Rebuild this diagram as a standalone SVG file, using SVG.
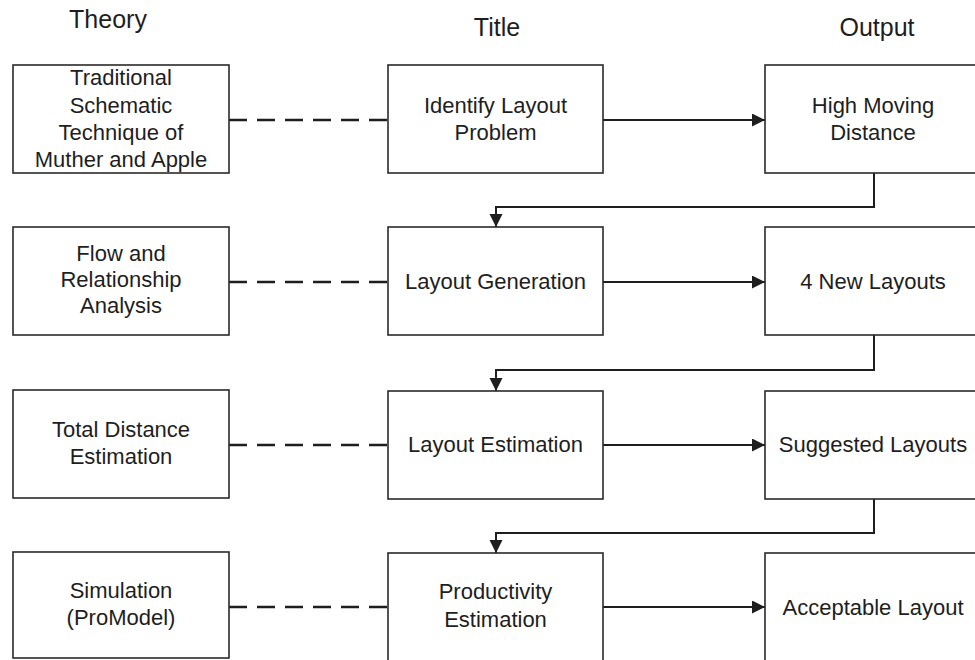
<svg xmlns="http://www.w3.org/2000/svg" width="975" height="660" viewBox="0 0 975 660">
<defs>
<marker id="ah" markerUnits="userSpaceOnUse" markerWidth="14" markerHeight="14" refX="13" refY="6.5" orient="auto">
<path d="M0,0 L13,6.5 L0,13 z" fill="#1e1e1e"/>
</marker>
<style>
.box{fill:#fff;stroke:#2a2a2a;stroke-width:1.6}
.t{font-family:"Liberation Sans",Arial,sans-serif;font-size:22px;fill:#1e1e1e;text-anchor:middle}
.h{font-family:"Liberation Sans",Arial,sans-serif;font-size:25px;fill:#1e1e1e;text-anchor:middle}
.dash{stroke:#1e1e1e;stroke-width:2.4;stroke-dasharray:18 10;fill:none}
.arr{stroke:#1e1e1e;stroke-width:2;fill:none;marker-end:url(#ah)}
</style>
</defs>
<rect width="975" height="660" fill="#fff"/>
<g id="headers">
<text class="h" x="108" y="28">Theory</text>
<text class="h" x="497" y="36">Title</text>
<text class="h" x="877" y="36">Output</text>
</g>
<g id="connectors">
<line class="dash" x1="229" y1="120" x2="388" y2="120"/>
<line class="dash" x1="229" y1="282" x2="388" y2="282"/>
<line class="dash" x1="229" y1="445" x2="388" y2="445"/>
<line class="dash" x1="229" y1="607" x2="388" y2="607"/>
<line class="arr" x1="603" y1="120" x2="765" y2="120"/>
<line class="arr" x1="603" y1="282" x2="765" y2="282"/>
<line class="arr" x1="603" y1="445" x2="765" y2="445"/>
<line class="arr" x1="603" y1="607" x2="765" y2="607"/>
<polyline class="arr" points="874,173 874,207 496,207 496,227"/>
<polyline class="arr" points="874,335 874,370 496,370 496,391"/>
<polyline class="arr" points="874,499 874,533 496,533 496,553"/>
</g>
<g id="theory1"><rect class="box" x="13" y="65" width="216" height="108"/>
<text class="t" x="121" y="85">Traditional</text><text class="t" x="121" y="113">Schematic</text><text class="t" x="121" y="140">Technique of</text><text class="t" x="121" y="167">Muther and Apple</text></g>
<g id="theory2"><rect class="box" x="13" y="227" width="216" height="108"/>
<text class="t" x="121" y="261">Flow and</text><text class="t" x="121" y="287">Relationship</text><text class="t" x="121" y="313">Analysis</text></g>
<g id="theory3"><rect class="box" x="13" y="390" width="216" height="108"/>
<text class="t" x="121" y="437">Total Distance</text><text class="t" x="121" y="464">Estimation</text></g>
<g id="theory4"><rect class="box" x="13" y="552" width="216" height="106"/>
<text class="t" x="121" y="598">Simulation</text><text class="t" x="121" y="625">(ProModel)</text></g>
<g id="title1"><rect class="box" x="388" y="65" width="215" height="108"/>
<text class="t" x="495.5" y="113">Identify Layout</text><text class="t" x="495.5" y="140">Problem</text></g>
<g id="title2"><rect class="box" x="388" y="227" width="215" height="108"/>
<text class="t" x="495.5" y="289">Layout Generation</text></g>
<g id="title3"><rect class="box" x="388" y="391" width="215" height="108"/>
<text class="t" x="495.5" y="452">Layout Estimation</text></g>
<g id="title4"><rect class="box" x="388" y="553" width="215" height="112"/>
<text class="t" x="495.5" y="599">Productivity</text><text class="t" x="495.5" y="627">Estimation</text></g>
<g id="output1"><rect class="box" x="765" y="65" width="216" height="108"/>
<text class="t" x="873" y="113">High Moving</text><text class="t" x="873" y="140">Distance</text></g>
<g id="output2"><rect class="box" x="765" y="227" width="216" height="108"/>
<text class="t" x="873" y="289">4 New Layouts</text></g>
<g id="output3"><rect class="box" x="765" y="391" width="216" height="108"/>
<text class="t" x="873" y="452">Suggested Layouts</text></g>
<g id="output4"><rect class="box" x="765" y="553" width="216" height="112"/>
<text class="t" x="873" y="615">Acceptable Layout</text></g>
</svg>
